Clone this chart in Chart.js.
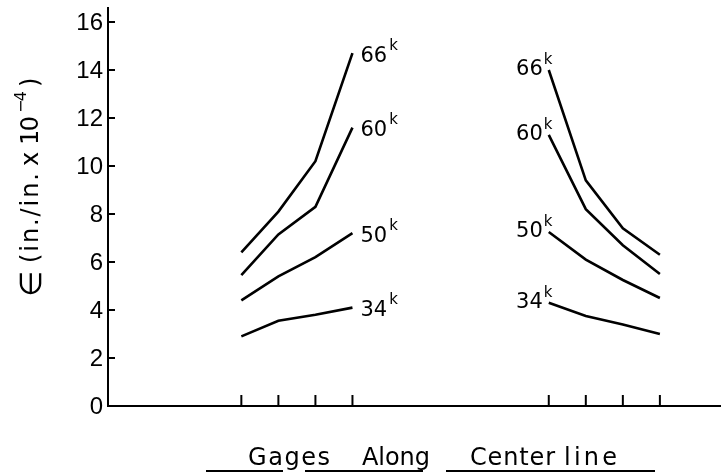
<!DOCTYPE html>
<html lang="en">
<head>
    <meta charset="UTF-8">
    <title>Gages Along Center line</title>
    <script src="https://cdn.jsdelivr.net/npm/chart.js"></script>
    <style>
        body { margin: 0; background: #fff; }
        canvas { display: block; }
    </style>
</head>
<body>
    <canvas id="myChart" width="721" height="476"></canvas>
    <script>
        // gage positions along the center line (two groups of four)
        const leftGages = [3.6, 4.6, 5.6, 6.6];
        const rightGages = [11.9, 12.9, 13.9, 14.9];
        const loads = ['66', '60', '50', '34'];

        // strain, in./in. x 10^-4
        const left66 = [6.4, 8.1, 10.2, 14.7];
        const left60 = [5.45, 7.15, 8.3, 11.6];
        const left50 = [4.4, 5.4, 6.2, 7.2];
        const left34 = [2.9, 3.55, 3.8, 4.1];
        const right66 = [14.0, 9.4, 7.4, 6.3];
        const right60 = [11.3, 8.2, 6.7, 5.5];
        const right50 = [7.25, 6.1, 5.25, 4.5];
        const right34 = [4.3, 3.75, 3.4, 3.0];

        const yTicks = [0, 2, 4, 6, 8, 10, 12, 14, 16];

        const leftSets = [left66, left60, left50, left34];
        const rightSets = [right66, right60, right50, right34];

        function toPoints(xs, ys) {
            return xs.map((x, i) => ({ x: x, y: ys[i] }));
        }

        const datasets = [];
        loads.forEach((load, i) => {
            datasets.push({ label: load + 'k', side: 'left', data: toPoints(leftGages, leftSets[i]) });
            datasets.push({ label: load + 'k', side: 'right', data: toPoints(rightGages, rightSets[i]) });
        });
        datasets.forEach(d => {
            d.borderColor = '#000';
            d.borderWidth = 2.6;
            d.pointRadius = 0;
            d.tension = 0;
            d.fill = false;
        });

        const FONT = '"Liberation Sans", Arial, sans-serif';
        const WIDE = '"DejaVu Sans", sans-serif';

        // draw a word, stretched a little with letter spacing so it spans `width`
        function fitText(ctx, text, x, y, width) {
            ctx.letterSpacing = '0px';
            const natural = ctx.measureText(text).width;
            const sp = text.length > 1 ? (width - natural) / (text.length - 1) : 0;
            ctx.letterSpacing = sp + 'px';
            ctx.fillText(text, x, y);
            ctx.letterSpacing = '0px';
        }

        const drawAxes = {
            id: 'drawAxes',
            afterDraw(chart) {
                const { ctx, chartArea: a, scales: { x, y } } = chart;
                ctx.save();
                ctx.strokeStyle = '#000';
                ctx.fillStyle = '#000';
                ctx.lineWidth = 2;

                // axis lines
                ctx.beginPath();
                ctx.moveTo(a.left, a.top);
                ctx.lineTo(a.left, a.bottom);
                ctx.lineTo(a.right, a.bottom);
                ctx.stroke();

                // y ticks and labels
                ctx.font = '24px ' + FONT;
                ctx.textAlign = 'right';
                ctx.textBaseline = 'middle';
                yTicks.forEach(v => {
                    const py = y.getPixelForValue(v);
                    if (v > 0) {
                        ctx.beginPath();
                        ctx.moveTo(a.left, py);
                        ctx.lineTo(a.left + 7, py);
                        ctx.stroke();
                    }
                    ctx.fillText(String(v), a.left - 5, py + 1);
                });

                // x ticks (pointing up)
                leftGages.concat(rightGages).forEach(g => {
                    const px = x.getPixelForValue(g);
                    ctx.beginPath();
                    ctx.moveTo(px, a.bottom);
                    ctx.lineTo(px, a.bottom - 11);
                    ctx.stroke();
                });

                // load labels
                chart.data.datasets.forEach((ds, i) => {
                    const pts = chart.getDatasetMeta(i).data;
                    const num = ds.label.replace('k', '');
                    ctx.textAlign = 'left';
                    ctx.textBaseline = 'middle';
                    if (ds.side === 'left') {
                        const p = pts[pts.length - 1];
                        ctx.font = '21px ' + WIDE;
                        const w = ctx.measureText(num).width;
                        ctx.fillText(num, p.x + 8, p.y + 3);
                        ctx.font = '15px ' + WIDE;
                        ctx.fillText('k', p.x + 10 + w, p.y - 7);
                    } else {
                        const p = pts[0];
                        ctx.font = '21px ' + WIDE;
                        const w = ctx.measureText(num).width;
                        ctx.fillText(num, p.x - 6 - w, p.y);
                        ctx.font = '15px ' + WIDE;
                        ctx.fillText('k', p.x - 5, p.y - 10);
                    }
                });

                // y title, rotated (reads bottom to top)
                ctx.translate(32, 294);
                ctx.rotate(-Math.PI / 2);
                ctx.textAlign = 'left';
                ctx.textBaseline = 'middle';
                ctx.font = '30px ' + WIDE;
                ctx.fillText('\u2208', -3, 1);
                ctx.font = '24px ' + WIDE;
                fitText(ctx, '(in./in.', 31, 0, 90);
                ctx.fillText('x', 128, 0);
                fitText(ctx, '10', 149, 0, 29);
                ctx.font = '16px ' + WIDE;
                fitText(ctx, '\u22124', 181, -10, 22);
                ctx.font = '24px ' + WIDE;
                ctx.fillText(')', 207, 0);
                ctx.setTransform(1, 0, 0, 1, 0, 0);

                // x title with broken underline
                ctx.font = '24px ' + WIDE;
                ctx.textAlign = 'left';
                ctx.textBaseline = 'alphabetic';
                fitText(ctx, 'Gages', 248, 465, 82);
                fitText(ctx, 'Along', 362, 465, 68);
                fitText(ctx, 'Center', 470, 465, 85);
                fitText(ctx, 'line', 564, 465, 53);
                ctx.lineWidth = 2;
                [[206, 283], [305, 423], [446, 655]].forEach(s => {
                    ctx.beginPath();
                    ctx.moveTo(s[0], 471);
                    ctx.lineTo(s[1], 471);
                    ctx.stroke();
                });
                ctx.restore();
            }
        };

        new Chart(document.getElementById('myChart').getContext('2d'), {
            type: 'line',
            data: { datasets: datasets },
            options: {
                responsive: false,
                animation: false,
                layout: { padding: { left: 108, top: 7, right: 0, bottom: 70 } },
                plugins: { legend: { display: false }, tooltip: { enabled: false } },
                scales: {
                    x: { type: 'linear', min: 0, max: 16.55, display: false },
                    y: { type: 'linear', min: 0, max: 16.625, display: false }
                }
            },
            plugins: [drawAxes]
        });
    </script>
</body>
</html>
